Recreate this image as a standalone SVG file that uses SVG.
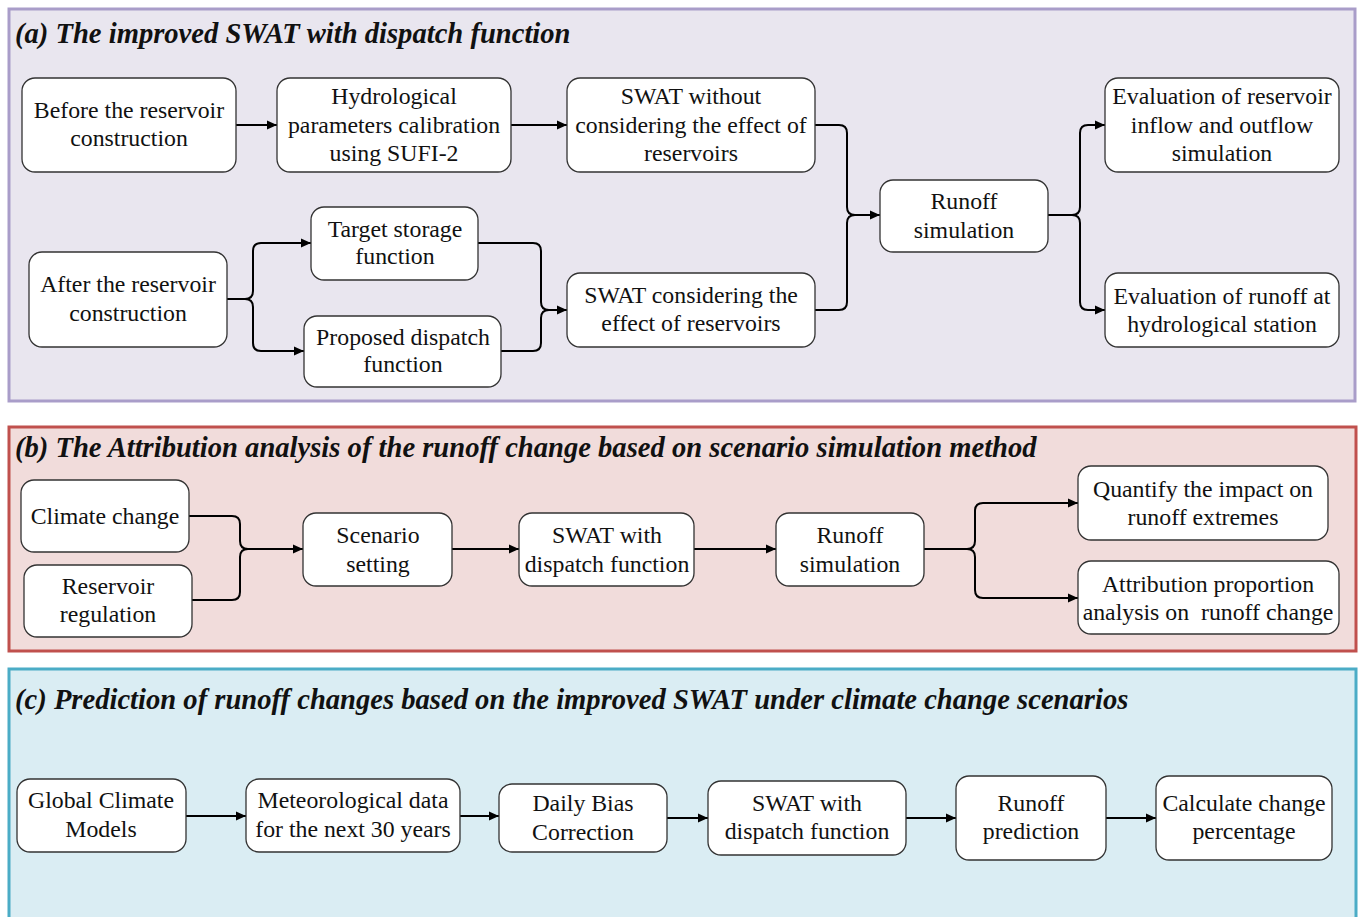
<svg xmlns="http://www.w3.org/2000/svg" width="1361" height="917" viewBox="0 0 1361 917">
<defs>
<marker id="ah" viewBox="0 0 10 10" refX="10" refY="5" markerWidth="10" markerHeight="10" markerUnits="userSpaceOnUse" orient="auto">
<path d="M0,0.5 L10,5 L0,9.5 Z" fill="#000"/>
</marker>
<style>
.panel{stroke-width:3}
.box{fill:#fff;stroke:#333;stroke-width:1.3}
.t{font-family:"Liberation Serif","Times New Roman",serif;font-size:23.8px;fill:#111;text-anchor:middle}
.title{font-family:"Liberation Serif","Times New Roman",serif;font-size:28.6px;font-weight:bold;font-style:italic;fill:#111}
.c{fill:none;stroke:#000;stroke-width:2;marker-end:url(#ah)}
.cn{fill:none;stroke:#000;stroke-width:2}
</style>
</defs>
<rect width="1361" height="917" fill="#fff"/>
<g id="panel-a">
<rect class="panel" x="9" y="9" width="1346" height="392" fill="#e9e6ef" stroke="#a99dc9"/>
<text class="title" x="15" y="43">(a) The improved SWAT with dispatch function</text>
</g>
<g id="panel-b">
<rect class="panel" x="9" y="427" width="1347" height="224" fill="#f1dcdb" stroke="#c0504d"/>
<text class="title" x="15" y="457">(b) The Attribution analysis of the runoff change based on scenario simulation method</text>
</g>
<g id="panel-c">
<rect class="panel" x="9" y="669" width="1347" height="260" fill="#daedf3" stroke="#4bacc6"/>
<text class="title" x="15" y="709">(c) Prediction of runoff changes based on the improved SWAT under climate change scenarios</text>
</g>

<g id="connectors">
<path class="c" d="M236,125 H277"/>
<path class="c" d="M511,125 H567"/>
<path class="cn" d="M815,125 H839 Q847,125 847,133 V207 Q847,215 855,215"/>
<path class="c" d="M815,310 H839 Q847,310 847,302 V223 Q847,215 855,215 H880"/>
<path class="c" d="M1048,215 H1072 Q1080,215 1080,207 V133 Q1080,125 1088,125 H1105"/>
<path class="c" d="M1048,215 H1072 Q1080,215 1080,223 V302 Q1080,310 1088,310 H1105"/>
<path class="c" d="M227,299 H245 Q253,299 253,291 V251 Q253,243 261,243 H311"/>
<path class="c" d="M227,299 H245 Q253,299 253,307 V343 Q253,351 261,351 H304"/>
<path class="cn" d="M478,243 H533 Q541,243 541,251 V302 Q541,310 549,310"/>
<path class="c" d="M501,351 H533 Q541,351 541,343 V318 Q541,310 549,310 H567"/>

<path class="cn" d="M189,516 H232 Q240,516 240,524 V541 Q240,549 248,549"/>
<path class="c" d="M192,600 H232 Q240,600 240,592 V557 Q240,549 248,549 H303"/>
<path class="c" d="M452,549 H519"/>
<path class="c" d="M694,549 H776"/>
<path class="c" d="M924,549 H967 Q975,549 975,541 V511 Q975,503 983,503 H1078"/>
<path class="c" d="M924,549 H967 Q975,549 975,557 V590 Q975,598 983,598 H1078"/>

<path class="c" d="M186,816 H246"/>
<path class="c" d="M460,816 H499"/>
<path class="c" d="M667,818 H708"/>
<path class="c" d="M906,818 H956"/>
<path class="c" d="M1106,818 H1156"/>
</g>

<g id="n-before"><rect class="box" x="22" y="78" width="214" height="94" rx="13"/>
<text class="t" x="129" y="118">Before the reservoir</text><text class="t" x="129" y="146">construction</text></g>
<g id="n-hydro"><rect class="box" x="277" y="78" width="234" height="94" rx="13"/>
<text class="t" x="394" y="104">Hydrological</text><text class="t" x="394" y="133">parameters calibration</text><text class="t" x="394" y="161">using SUFI-2</text></g>
<g id="n-swat-without"><rect class="box" x="567" y="78" width="248" height="94" rx="13"/>
<text class="t" x="691" y="104">SWAT without</text><text class="t" x="691" y="133">considering the effect of</text><text class="t" x="691" y="161">reservoirs</text></g>
<g id="n-runoff-a"><rect class="box" x="880" y="180" width="168" height="72" rx="13"/>
<text class="t" x="964" y="209">Runoff</text><text class="t" x="964" y="238">simulation</text></g>
<g id="n-eval-res"><rect class="box" x="1105" y="78" width="234" height="94" rx="13"/>
<text class="t" x="1222" y="104">Evaluation of reservoir</text><text class="t" x="1222" y="133">inflow and outflow</text><text class="t" x="1222" y="161">simulation</text></g>
<g id="n-eval-runoff"><rect class="box" x="1105" y="273" width="234" height="74" rx="13"/>
<text class="t" x="1222" y="304">Evaluation of runoff at</text><text class="t" x="1222" y="332">hydrological station</text></g>
<g id="n-after"><rect class="box" x="29" y="252" width="198" height="95" rx="13"/>
<text class="t" x="128" y="292">After the reservoir</text><text class="t" x="128" y="321">construction</text></g>
<g id="n-target"><rect class="box" x="311" y="207" width="167" height="73" rx="13"/>
<text class="t" x="395" y="237">Target storage</text><text class="t" x="395" y="264">function</text></g>
<g id="n-proposed"><rect class="box" x="304" y="316" width="197" height="71" rx="13"/>
<text class="t" x="403" y="345">Proposed dispatch</text><text class="t" x="403" y="372">function</text></g>
<g id="n-swat-considering"><rect class="box" x="567" y="273" width="248" height="74" rx="13"/>
<text class="t" x="691" y="303">SWAT considering the</text><text class="t" x="691" y="331">effect of reservoirs</text></g>

<g id="n-climate"><rect class="box" x="21" y="480" width="168" height="72" rx="13"/>
<text class="t" x="105" y="524">Climate change</text></g>
<g id="n-regulation"><rect class="box" x="24" y="565" width="168" height="72" rx="13"/>
<text class="t" x="108" y="594">Reservoir</text><text class="t" x="108" y="622">regulation</text></g>
<g id="n-scenario"><rect class="box" x="303" y="513" width="149" height="73" rx="13"/>
<text class="t" x="378" y="543">Scenario</text><text class="t" x="378" y="572">setting</text></g>
<g id="n-swat-b"><rect class="box" x="519" y="513" width="175" height="73" rx="13"/>
<text class="t" x="607" y="543">SWAT with</text><text class="t" x="607" y="572">dispatch function</text></g>
<g id="n-runoff-b"><rect class="box" x="776" y="513" width="148" height="73" rx="13"/>
<text class="t" x="850" y="543">Runoff</text><text class="t" x="850" y="572">simulation</text></g>
<g id="n-quantify"><rect class="box" x="1078" y="466" width="250" height="74" rx="13"/>
<text class="t" x="1203" y="497">Quantify the impact on</text><text class="t" x="1203" y="525">runoff extremes</text></g>
<g id="n-attribution"><rect class="box" x="1078" y="561" width="261" height="73" rx="13"/>
<text class="t" x="1208" y="592">Attribution proportion</text><text class="t" x="1208" y="620">analysis on&#160; runoff change</text></g>

<g id="n-gcm"><rect class="box" x="17" y="779" width="169" height="73" rx="13"/>
<text class="t" x="101" y="808">Global Climate</text><text class="t" x="101" y="837">Models</text></g>
<g id="n-meteo"><rect class="box" x="246" y="779" width="214" height="73" rx="13"/>
<text class="t" x="353" y="808">Meteorological data</text><text class="t" x="353" y="837">for the next 30 years</text></g>
<g id="n-bias"><rect class="box" x="499" y="784" width="168" height="68" rx="13"/>
<text class="t" x="583" y="811">Daily Bias</text><text class="t" x="583" y="840">Correction</text></g>
<g id="n-swat-c"><rect class="box" x="708" y="781" width="198" height="74" rx="13"/>
<text class="t" x="807" y="811">SWAT with</text><text class="t" x="807" y="839">dispatch function</text></g>
<g id="n-runoff-c"><rect class="box" x="956" y="776" width="150" height="84" rx="13"/>
<text class="t" x="1031" y="811">Runoff</text><text class="t" x="1031" y="839">prediction</text></g>
<g id="n-calc"><rect class="box" x="1156" y="776" width="176" height="84" rx="13"/>
<text class="t" x="1244" y="811">Calculate change</text><text class="t" x="1244" y="839">percentage</text></g>
</svg>
